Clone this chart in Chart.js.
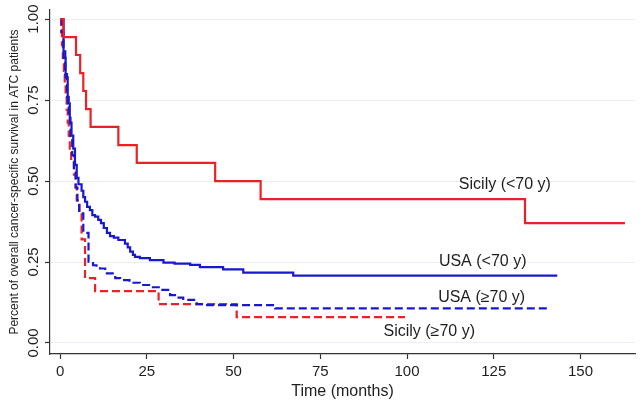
<!DOCTYPE html>
<html>
<head>
<meta charset="utf-8">
<script src="https://cdn.jsdelivr.net/npm/chart.js@4.4.1/dist/chart.umd.min.js"></script>
<style>
  html, body { margin: 0; padding: 0; background: #fff; }
  #wrap { width: 641px; height: 402px; }
</style>
</head>
<body>
<div id="wrap"><canvas id="kmChart" width="641" height="402"></canvas></div>
<script>
  // Kaplan-Meier curves (time in months, survival proportion)
  var sicilyYoungT = [0, 1, 4.6, 5.8, 6.7, 7.5, 8.8, 16.8, 22.1, 44.7, 57.8, 134, 162.8];
  var sicilyYoungS = [1, 0.944, 0.889, 0.833, 0.778, 0.722, 0.667, 0.611, 0.556, 0.5, 0.444, 0.37, 0.37];

  var sicilyOldT = [0, 0.3, 0.55, 0.8, 1.1, 1.35, 1.6, 1.9, 2.2, 2.5, 2.8, 3.2, 4.0, 4.5, 4.8, 5.6, 6.2, 7.2, 10.1, 28.4, 50.9, 99.4];
  var sicilyOldS = [1, 0.96, 0.92, 0.88, 0.84, 0.80, 0.76, 0.72, 0.68, 0.64, 0.60, 0.56, 0.52, 0.48, 0.44, 0.40, 0.32, 0.20, 0.16, 0.12, 0.08, 0.08];

  var usaYoungT = [0, 1, 1.6, 2.2, 2.8, 3.3, 3.8, 4.3, 4.8, 5.3, 6.2, 6.7, 7.2, 7.8, 8.6, 9.3, 10.1, 11, 11.8, 12.6, 13.5, 14.4, 15.5, 16.8, 18.7, 19.5, 20.2, 21, 21.6, 23, 25.9, 29.8, 33, 37.5, 40.3, 47, 52.8, 67.2, 143.3];
  var usaYoungS = [1, 0.88, 0.82, 0.74, 0.68, 0.64, 0.6, 0.55, 0.51, 0.49, 0.47, 0.45, 0.436, 0.42, 0.41, 0.395, 0.39, 0.38, 0.37, 0.355, 0.34, 0.33, 0.325, 0.318, 0.307, 0.295, 0.282, 0.272, 0.266, 0.262, 0.256, 0.248, 0.245, 0.241, 0.234, 0.227, 0.217, 0.208, 0.208];

  var usaOldT = [0, 0.5, 1, 1.5, 2, 2.5, 3, 3.5, 4, 4.5, 5, 5.5, 6.7, 8.2, 9.5, 10.5, 11.5, 13, 15.9, 17.3, 20, 23, 26, 28.8, 31.7, 33.5, 35.5, 39.4, 42, 62, 141.2];
  var usaOldS = [1, 0.96, 0.9, 0.83, 0.76, 0.7, 0.64, 0.58, 0.53, 0.48, 0.44, 0.40, 0.34, 0.251, 0.24, 0.235, 0.23, 0.215, 0.2, 0.194, 0.186, 0.179, 0.172, 0.164, 0.148, 0.14, 0.133, 0.12, 0.117, 0.107, 0.107];

  // axis ticks
  var xTicks = [0, 25, 50, 75, 100, 125, 150];
  var yTicks = [0, 0.25, 0.5, 0.75, 1];

  // curve labels (placed in data units)
  var curveLabels = ["Sicily (<70 y)", "USA (<70 y)", "USA (\u226570 y)", "Sicily (\u226570 y)"];
  var labelX = [128.2, 121.8, 121.5, 106.4];
  var labelY = [0.488, 0.251, 0.141, 0.035];

  var RED = "rgb(234, 34, 38)";
  var BLUE = "rgb(24, 24, 208)";
  var FONT = '"Liberation Sans", Arial, Helvetica, sans-serif';

  function pts(t, s) {
    return t.map(function (v, i) { return { x: v, y: s[i] }; });
  }

  var labelPlugin = {
    id: 'curveLabels',
    afterDatasetsDraw: function (chart) {
      var ctx = chart.ctx, x = chart.scales.x, y = chart.scales.y;
      ctx.save();
      ctx.font = '16px ' + FONT;
      ctx.fillStyle = '#1e1e1e';
      ctx.textAlign = 'center';
      ctx.textBaseline = 'middle';
      curveLabels.forEach(function (txt, i) {
        ctx.fillText(txt, x.getPixelForValue(labelX[i]), y.getPixelForValue(labelY[i]));
      });
      ctx.restore();
    }
  };

  var lineBase = { pointRadius: 0, borderWidth: 2.2, stepped: true, fill: false };

  var kmChart = new Chart(document.getElementById('kmChart'), {
    type: 'line',
    data: {
      datasets: [
        Object.assign({ label: 'Sicily (<70 y)', data: pts(sicilyYoungT, sicilyYoungS), borderColor: RED }, lineBase),
        Object.assign({ label: 'USA (<70 y)', data: pts(usaYoungT, usaYoungS), borderColor: BLUE }, lineBase),
        Object.assign({ label: 'USA (\u226570 y)', data: pts(usaOldT, usaOldS), borderColor: BLUE, borderDash: [8, 4] }, lineBase),
        Object.assign({ label: 'Sicily (\u226570 y)', data: pts(sicilyOldT, sicilyOldS), borderColor: RED, borderDash: [8, 4] }, lineBase)
      ]
    },
    options: {
      responsive: false,
      animation: false,
      layout: { padding: { left: 7, top: 10, right: 6, bottom: 0 } },
      plugins: { legend: { display: false }, tooltip: { enabled: false } },
      scales: {
        x: {
          type: 'linear',
          min: -2.9,
          max: 165.7,
          afterBuildTicks: function (s) { s.ticks = xTicks.map(function (v) { return { value: v }; }); },
          afterFit: function (s) { s.height = 48; },
          grid: { drawOnChartArea: false, tickLength: 5, tickColor: '#333', tickWidth: 1.2 },
          border: { color: '#333', width: 1.2 },
          ticks: { color: '#1e1e1e', font: { family: FONT, size: 15 }, padding: 4, maxRotation: 0, autoSkip: false },
          title: { display: true, text: 'Time (months)', color: '#1e1e1e', font: { family: FONT, size: 16 }, padding: { top: 0, bottom: 1 } }
        },
        y: {
          type: 'linear',
          min: -0.034,
          max: 1.028,
          afterBuildTicks: function (s) { s.ticks = yTicks.map(function (v) { return { value: v }; }); },
          afterFit: function (s) { s.width = 43; },
          grid: { color: '#e9eff4', lineWidth: 1, tickLength: 5, tickColor: '#333', tickWidth: 1.2 },
          border: { color: '#333', width: 1.2 },
          ticks: {
            color: '#1e1e1e', font: { family: FONT, size: 15 }, padding: -3,
            minRotation: 90, maxRotation: 90, crossAlign: 'center', autoSkip: false,
            callback: function (v) { return v.toFixed(2); }
          },
          title: { display: true, text: 'Percent of overall cancer-specific survival in ATC patients', color: '#1e1e1e', font: { family: FONT, size: 12 }, padding: 0 }
        }
      }
    },
    plugins: [labelPlugin]
  });
</script>
</body>
</html>
